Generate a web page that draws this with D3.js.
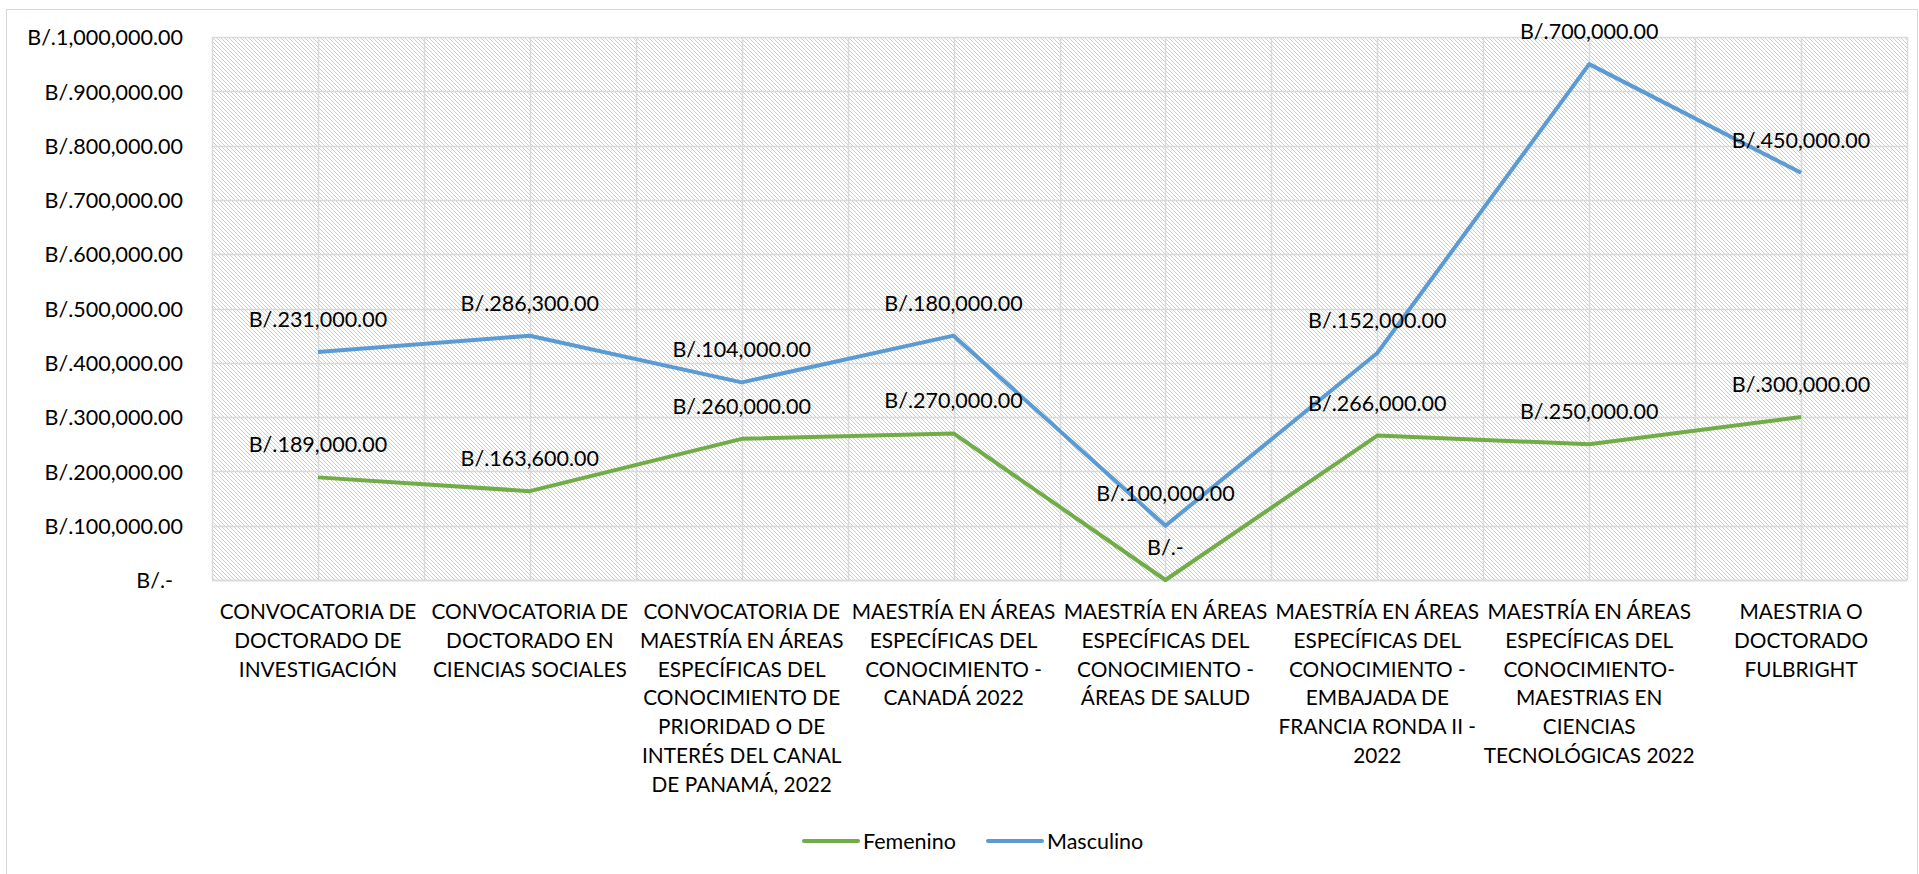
<!DOCTYPE html>
<html>
<head>
<meta charset="utf-8">
<script src="https://cdn.jsdelivr.net/npm/d3@7"></script>
<style>
  body { margin: 0; background: #fff; }
  text { font-family: Lato, "Open Sans", sans-serif; fill: #000; }
</style>
</head>
<body>
<svg id="chart"></svg>
<script>
// categories (line breaks as in the original axis)
var categories = [
  "CONVOCATORIA DE\nDOCTORADO DE\nINVESTIGACIÓN",
  "CONVOCATORIA DE\nDOCTORADO EN\nCIENCIAS SOCIALES",
  "CONVOCATORIA DE\nMAESTRÍA EN ÁREAS\nESPECÍFICAS DEL\nCONOCIMIENTO DE\nPRIORIDAD O DE\nINTERÉS DEL CANAL\nDE PANAMÁ, 2022",
  "MAESTRÍA EN ÁREAS\nESPECÍFICAS DEL\nCONOCIMIENTO -\nCANADÁ 2022",
  "MAESTRÍA EN ÁREAS\nESPECÍFICAS DEL\nCONOCIMIENTO -\nÁREAS DE SALUD",
  "MAESTRÍA EN ÁREAS\nESPECÍFICAS DEL\nCONOCIMIENTO -\nEMBAJADA DE\nFRANCIA RONDA II -\n2022",
  "MAESTRÍA EN ÁREAS\nESPECÍFICAS DEL\nCONOCIMIENTO-\nMAESTRIAS EN\nCIENCIAS\nTECNOLÓGICAS 2022",
  "MAESTRIA O\nDOCTORADO\nFULBRIGHT"
];
var femenino  = [189000, 163600, 260000, 270000, 0, 266000, 250000, 300000];
var masculino = [231000, 286300, 104000, 180000, 100000, 152000, 700000, 450000];
var seriesNames = ["Femenino", "Masculino"];
var seriesColors = ["#70AD47", "#5B9BD5"];
var yTicks = [0, 100000, 200000, 300000, 400000, 500000, 600000, 700000, 800000, 900000, 1000000];

var width = 1919, height = 874;
var margin = {left: 212, top: 37, right: 12, bottom: 294};
var plotW = width - margin.left - margin.right;
var plotH = height - margin.top - margin.bottom;
var fontSize = "21.5px";

var svg = d3.select("#chart").attr("width", width).attr("height", height);

// chart frame
svg.append("rect")
  .attr("x", 6.5).attr("y", 9.5)
  .attr("width", 1911).attr("height", 880)
  .attr("fill", "#fff").attr("stroke", "#d9d9d9");

// hatch pattern for plot area
var defs = svg.append("defs");
var pat = defs.append("pattern")
  .attr("id", "hatch")
  .attr("patternUnits", "userSpaceOnUse")
  .attr("width", 4).attr("height", 4);
pat.append("rect").attr("width", 4).attr("height", 4).attr("fill", "#fff");
pat.append("path")
  .attr("d", "M-1,-1 L5,5 M-1,3 L1,5 M3,-1 L5,1")
  .attr("stroke", "#cdcdcd").attr("stroke-width", 1);

var g = svg.append("g").attr("transform", "translate(" + margin.left + "," + margin.top + ")");

var x = d3.scaleBand().domain(d3.range(categories.length)).range([0, plotW]).padding(0);
var y = d3.scaleLinear().domain([0, 1000000]).range([plotH, 0]);

g.append("rect").attr("width", plotW).attr("height", plotH).attr("fill", "url(#hatch)");

// gridlines
g.append("g").selectAll("line")
  .data(yTicks)
  .join("line")
  .attr("x1", 0).attr("x2", plotW)
  .attr("y1", d => Math.round(y(d)) + 0.5).attr("y2", d => Math.round(y(d)) + 0.5)
  .attr("stroke", "#d9d9d9").attr("stroke-width", 1.5);

var vgrid = d3.range(categories.length * 2 + 1).map(i => i * x.bandwidth() / 2);
g.append("g").selectAll("line")
  .data(vgrid)
  .join("line")
  .attr("x1", d => Math.round(d) + 0.5).attr("x2", d => Math.round(d) + 0.5)
  .attr("y1", 0).attr("y2", plotH)
  .attr("stroke", "#d9d9d9").attr("stroke-width", 1.5);

// y axis
var fmt = d3.format(",.2f");
function money(v) { return v === 0 ? "B/.-" : "B/." + fmt(v); }

var yAxis = g.append("g")
  .call(d3.axisLeft(y).tickValues(yTicks).tickFormat(money).tickSize(0).tickPadding(29));
yAxis.select(".domain").remove();
yAxis.selectAll("text")
  .style("font-size", fontSize)
  .attr("dy", "0.36em")
  .attr("dx", d => d === 0 ? -10 : 0);

// x axis
g.append("line")
  .attr("x1", 0).attr("x2", plotW)
  .attr("y1", plotH + 0.5).attr("y2", plotH + 0.5)
  .attr("stroke", "#d9d9d9").attr("stroke-width", 1.5);

var xLab = g.append("g").selectAll("text")
  .data(categories)
  .join("text")
  .attr("transform", (d, i) => "translate(" + (x(i) + x.bandwidth() / 2) + "," + (plotH + 39) + ")")
  .attr("text-anchor", "middle")
  .style("font-size", "20.8px");
xLab.selectAll("tspan")
  .data(d => d.split("\n"))
  .join("tspan")
  .attr("x", 0)
  .attr("y", (d, i) => i * 28.8)
  .text(d => d);

// stacked series
var rows = categories.map((c, i) => ({i: i, Femenino: femenino[i], Masculino: masculino[i]}));
var stack = d3.stack().keys(seriesNames)(rows);

var line = d3.line()
  .x(d => x(d.data.i) + x.bandwidth() / 2)
  .y(d => y(d[1]));

g.selectAll(".series")
  .data(stack)
  .join("path")
  .attr("class", "series")
  .attr("d", line)
  .attr("fill", "none")
  .attr("stroke", (d, i) => seriesColors[i])
  .attr("stroke-width", 4)
  .attr("stroke-linejoin", "round");

// data labels (own value, placed above the stacked point)
stack.forEach(function(s) {
  g.append("g").selectAll("text")
    .data(s)
    .join("text")
    .attr("x", d => x(d.data.i) + x.bandwidth() / 2)
    .attr("y", d => y(d[1]) - 25)
    .attr("text-anchor", "middle")
    .style("font-size", fontSize)
    .text(d => money(d.data[s.key]));
});

// legend
var legend = svg.append("g").attr("transform", "translate(804,841)");
var item = legend.selectAll("g")
  .data(seriesNames)
  .join("g")
  .attr("transform", (d, i) => "translate(" + (i * 184) + ",0)");
item.append("line")
  .attr("x1", 0).attr("x2", 54)
  .attr("stroke", (d, i) => seriesColors[i])
  .attr("stroke-width", 4).attr("stroke-linecap", "round");
item.append("text")
  .attr("x", 59).attr("dy", "0.36em")
  .style("font-size", fontSize)
  .text(d => d);
</script>
</body>
</html>
